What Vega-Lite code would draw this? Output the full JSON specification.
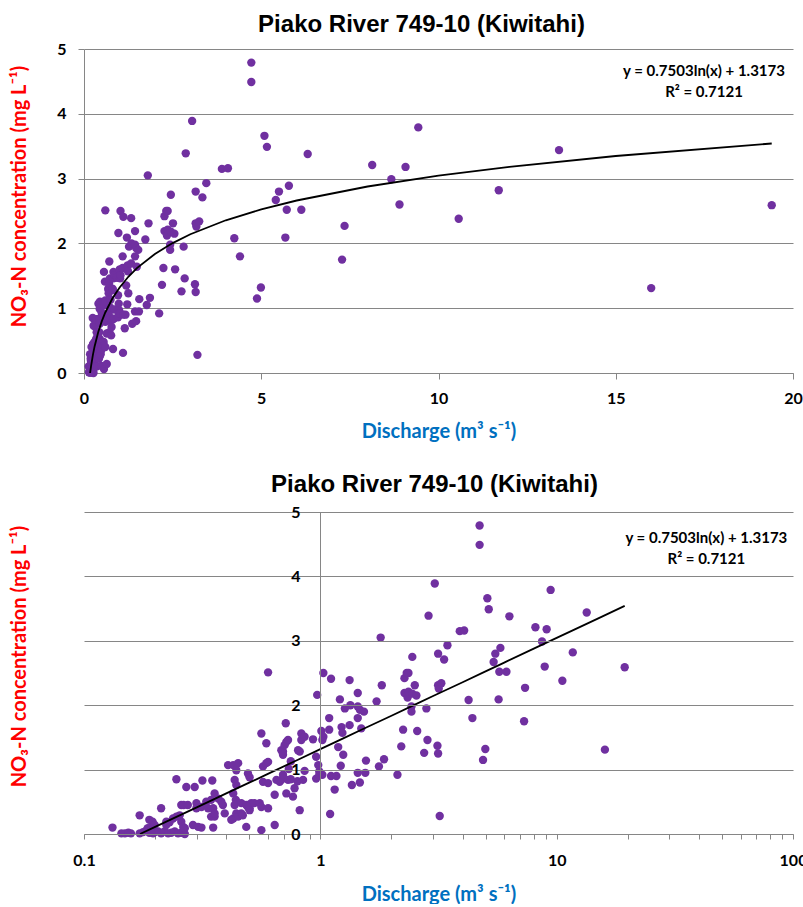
{
  "$schema": "https://vega.github.io/schema/vega-lite/v6.json",
  "background": "white",
  "padding": {"left": 9, "top": 13, "right": 0, "bottom": 0},
  "spacing": 32,
  "config": {
    "view": {"stroke": null},
    "font": "Lato",
    "axis": {
      "labelFont": "Lato", "labelFontSize": 16, "labelFontWeight": "bold", "labelColor": "#000000",
      "titleFont": "Lato", "titleFontWeight": "bold",
      "domainColor": "#868686", "tickColor": "#868686", "gridColor": "#868686", "gridWidth": 1,
      "labelFlush": false, "labelOverlap": false
    }
  },
  "datasets": {
    "obs": [
      {"Q":0.132,"NO3":0.10},{"Q":0.144,"NO3":0.01},{"Q":0.149,"NO3":0.01},{"Q":0.154,"NO3":0.02},{"Q":0.158,"NO3":0.01},
      {"Q":0.172,"NO3":0.29},{"Q":0.172,"NO3":0.01},{"Q":0.178,"NO3":0.03},{"Q":0.183,"NO3":0.05},{"Q":0.186,"NO3":0.09},
      {"Q":0.189,"NO3":0.02},{"Q":0.189,"NO3":0.22},{"Q":0.193,"NO3":0.11},{"Q":0.195,"NO3":0.19},{"Q":0.196,"NO3":0.01},
      {"Q":0.199,"NO3":0.14},{"Q":0.199,"NO3":0.03},
      {"Q":0.206,"NO3":0.04},{"Q":0.212,"NO3":0.01},{"Q":0.212,"NO3":0.40},{"Q":0.219,"NO3":0.04},{"Q":0.223,"NO3":0.19},
      {"Q":0.223,"NO3":0.14},{"Q":0.227,"NO3":0.01},{"Q":0.230,"NO3":0.18},{"Q":0.234,"NO3":0.02},{"Q":0.238,"NO3":0.24},
      {"Q":0.242,"NO3":0.04},{"Q":0.246,"NO3":0.27},{"Q":0.246,"NO3":0.85},{"Q":0.250,"NO3":0.01},{"Q":0.254,"NO3":0.29},
      {"Q":0.258,"NO3":0.19},{"Q":0.258,"NO3":0.45},{"Q":0.258,"NO3":0.02},{"Q":0.263,"NO3":0.11},{"Q":0.264,"NO3":0.45},
      {"Q":0.267,"NO3":0.0},{"Q":0.267,"NO3":0.09},{"Q":0.271,"NO3":0.73},{"Q":0.275,"NO3":0.45},{"Q":0.289,"NO3":0.14},
      {"Q":0.294,"NO3":0.73},{"Q":0.299,"NO3":0.48},{"Q":0.299,"NO3":0.40},
      {"Q":0.304,"NO3":0.11},{"Q":0.314,"NO3":0.10},{"Q":0.314,"NO3":0.42},{"Q":0.317,"NO3":0.83},{"Q":0.329,"NO3":0.50},
      {"Q":0.335,"NO3":0.40},{"Q":0.345,"NO3":0.53},{"Q":0.345,"NO3":0.27},{"Q":0.349,"NO3":0.83},{"Q":0.352,"NO3":0.40},
      {"Q":0.352,"NO3":0.10},{"Q":0.357,"NO3":0.63},{"Q":0.357,"NO3":0.27},{"Q":0.357,"NO3":0.32},{"Q":0.37,"NO3":0.55},
      {"Q":0.381,"NO3":0.50},{"Q":0.387,"NO3":0.45},{"Q":0.394,"NO3":0.32},
      {"Q":0.407,"NO3":1.07},{"Q":0.428,"NO3":1.07},{"Q":0.449,"NO3":1.10},{"Q":0.441,"NO3":0.99},{"Q":0.434,"NO3":0.84},
      {"Q":0.441,"NO3":0.76},{"Q":0.428,"NO3":0.63},{"Q":0.439,"NO3":0.53},{"Q":0.434,"NO3":0.45},{"Q":0.428,"NO3":0.24},
      {"Q":0.42,"NO3":0.22},{"Q":0.441,"NO3":0.32},{"Q":0.449,"NO3":0.27},{"Q":0.463,"NO3":0.32},{"Q":0.47,"NO3":0.29},
      {"Q":0.463,"NO3":0.48},{"Q":0.486,"NO3":0.11},{"Q":0.494,"NO3":0.94},{"Q":0.502,"NO3":0.88},{"Q":0.486,"NO3":0.45},
      {"Q":0.502,"NO3":0.40},{"Q":0.510,"NO3":0.48},{"Q":0.494,"NO3":0.42},{"Q":0.502,"NO3":0.37},
      {"Q":0.526,"NO3":0.48},{"Q":0.554,"NO3":0.48},{"Q":0.563,"NO3":0.42},{"Q":0.563,"NO3":0.06},{"Q":0.563,"NO3":1.56},
      {"Q":0.572,"NO3":0.81},{"Q":0.572,"NO3":1.05},{"Q":0.591,"NO3":1.10},{"Q":0.591,"NO3":1.41},{"Q":0.601,"NO3":1.12},
      {"Q":0.601,"NO3":0.40},{"Q":0.601,"NO3":0.79},{"Q":0.601,"NO3":2.51},{"Q":0.641,"NO3":0.61},{"Q":0.641,"NO3":0.14},
      {"Q":0.652,"NO3":0.84},{"Q":0.673,"NO3":0.81},{"Q":0.684,"NO3":0.84},{"Q":0.684,"NO3":1.30},{"Q":0.695,"NO3":0.92},
      {"Q":0.695,"NO3":1.28},{"Q":0.695,"NO3":1.23},{"Q":0.706,"NO3":1.38},{"Q":0.714,"NO3":1.72},{"Q":0.718,"NO3":1.43},
      {"Q":0.718,"NO3":0.63},{"Q":0.730,"NO3":1.46},{"Q":0.730,"NO3":0.84},
      {"Q":0.735,"NO3":1.01},{"Q":0.75,"NO3":1.13},{"Q":0.75,"NO3":0.85},{"Q":0.766,"NO3":0.58},
      {"Q":0.778,"NO3":0.71},{"Q":0.80,"NO3":0.82},{"Q":0.805,"NO3":1.30},
      {"Q":0.818,"NO3":0.37},{"Q":0.818,"NO3":1.28},{"Q":0.831,"NO3":1.46},{"Q":0.831,"NO3":1.56},
      {"Q":0.858,"NO3":0.98},{"Q":0.845,"NO3":0.84},{"Q":0.858,"NO3":1.51},{"Q":0.931,"NO3":1.47},{"Q":0.96,"NO3":1.20},
      {"Q":0.96,"NO3":0.86},{"Q":0.97,"NO3":2.16},{"Q":0.98,"NO3":1.07},{"Q":0.99,"NO3":0.97},{"Q":0.99,"NO3":0.92},
      {"Q":1.01,"NO3":1.60},{"Q":1.02,"NO3":1.46},{"Q":1.02,"NO3":0.92},{"Q":1.03,"NO3":2.50},{"Q":1.03,"NO3":1.51},
      {"Q":1.09,"NO3":1.80},{"Q":1.09,"NO3":1.62},{"Q":1.10,"NO3":0.31},{"Q":1.11,"NO3":2.41},{"Q":1.11,"NO3":0.90},
      {"Q":1.15,"NO3":0.69},{"Q":1.17,"NO3":0.90},{"Q":1.19,"NO3":1.35},{"Q":1.21,"NO3":2.09},{"Q":1.22,"NO3":1.06},
      {"Q":1.23,"NO3":1.66},{"Q":1.24,"NO3":1.57},{"Q":1.25,"NO3":1.23},{"Q":1.27,"NO3":1.95},{"Q":1.33,"NO3":2.39},
      {"Q":1.33,"NO3":1.69},{"Q":1.34,"NO3":2.00},{"Q":1.36,"NO3":0.76},{"Q":1.44,"NO3":2.19},{"Q":1.44,"NO3":1.98},
      {"Q":1.44,"NO3":1.80},{"Q":1.44,"NO3":0.95},{"Q":1.47,"NO3":1.93},{"Q":1.47,"NO3":0.80},{"Q":1.49,"NO3":1.64},
      {"Q":1.53,"NO3":1.90},{"Q":1.55,"NO3":0.95},{"Q":1.56,"NO3":1.14},{"Q":1.73,"NO3":2.06},{"Q":1.77,"NO3":1.05},
      {"Q":1.80,"NO3":3.05},{"Q":1.82,"NO3":2.31},{"Q":1.86,"NO3":1.16},
      {"Q":2.12,"NO3":0.92},{"Q":2.20,"NO3":1.36},{"Q":2.24,"NO3":1.62},{"Q":2.27,"NO3":2.42},{"Q":2.27,"NO3":2.19},
      {"Q":2.32,"NO3":2.50},{"Q":2.34,"NO3":2.12},{"Q":2.36,"NO3":2.50},{"Q":2.36,"NO3":2.21},{"Q":2.43,"NO3":1.98},
      {"Q":2.43,"NO3":1.90},{"Q":2.45,"NO3":2.75},{"Q":2.45,"NO3":2.18},{"Q":2.51,"NO3":2.31},{"Q":2.55,"NO3":2.15},
      {"Q":2.57,"NO3":1.60},{"Q":2.75,"NO3":1.26},{"Q":2.81,"NO3":1.95},{"Q":2.84,"NO3":1.46},{"Q":2.87,"NO3":3.39},
      {"Q":3.05,"NO3":3.89},{"Q":3.13,"NO3":1.37},{"Q":3.15,"NO3":2.80},{"Q":3.15,"NO3":2.31},{"Q":3.15,"NO3":1.25},
      {"Q":3.17,"NO3":2.26},{"Q":3.20,"NO3":0.28},{"Q":3.25,"NO3":2.34},{"Q":3.34,"NO3":2.71},{"Q":3.45,"NO3":2.93},
      {"Q":3.89,"NO3":3.15},{"Q":4.06,"NO3":3.16},{"Q":4.24,"NO3":2.08},{"Q":4.40,"NO3":1.80},{"Q":4.72,"NO3":4.79},
      {"Q":4.72,"NO3":4.49},{"Q":4.88,"NO3":1.15},{"Q":4.99,"NO3":1.32},
      {"Q":5.09,"NO3":3.66},{"Q":5.16,"NO3":3.49},{"Q":5.41,"NO3":2.67},{"Q":5.50,"NO3":2.80},{"Q":5.68,"NO3":2.09},
      {"Q":5.72,"NO3":2.52},{"Q":5.78,"NO3":2.89},{"Q":6.13,"NO3":2.52},{"Q":6.31,"NO3":3.38},{"Q":7.28,"NO3":1.75},
      {"Q":7.35,"NO3":2.27},{"Q":8.13,"NO3":3.21},{"Q":8.67,"NO3":2.99},{"Q":8.90,"NO3":2.60},{"Q":9.07,"NO3":3.18},
      {"Q":9.43,"NO3":3.79},{"Q":10.57,"NO3":2.38},{"Q":11.7,"NO3":2.82},{"Q":13.4,"NO3":3.44},{"Q":16.0,"NO3":1.31},
      {"Q":19.4,"NO3":2.59}
    ],
    "trend": [
      {"Q":0.1726,"NO3":0.0},{"Q":0.2,"NO3":0.110},{"Q":0.25,"NO3":0.277},{"Q":0.3,"NO3":0.414},{"Q":0.4,"NO3":0.630},
      {"Q":0.5,"NO3":0.797},{"Q":0.6,"NO3":0.934},{"Q":0.8,"NO3":1.150},{"Q":1,"NO3":1.317},{"Q":1.25,"NO3":1.485},
      {"Q":1.5,"NO3":1.622},{"Q":2,"NO3":1.837},{"Q":2.5,"NO3":2.005},{"Q":3,"NO3":2.142},{"Q":4,"NO3":2.357},
      {"Q":5,"NO3":2.525},{"Q":6,"NO3":2.662},{"Q":8,"NO3":2.878},{"Q":10,"NO3":3.045},{"Q":12,"NO3":3.182},
      {"Q":15,"NO3":3.349},{"Q":19.4,"NO3":3.542}
    ]
  },
  "vconcat": [
    {
      "width": 709, "height": 324,
      "title": {"text": "Piako River 749-10 (Kiwitahi)", "font": "Liberation Sans", "fontSize": 24, "fontWeight": "bold", "color": "#000000", "anchor": "middle", "baseline": "alphabetic", "offset": -15, "dx": -17},
      "layer": [
        {
          "data": {"name": "obs"},
          "mark": {"type": "circle", "size": 70, "color": "#7030A0", "opacity": 1},
          "encoding": {
            "x": {"field": "Q", "type": "quantitative", "scale": {"domain": [0, 20], "nice": false, "zero": false},
                  "axis": {"values": [0, 5, 10, 15, 20], "format": "d", "grid": false, "tickSize": 6, "labelPadding": 11,
                           "title": "Discharge (m³ s⁻¹)", "titleColor": "#0070C0", "titleFontSize": 20, "titlePadding": 15}},
            "y": {"field": "NO3", "type": "quantitative", "scale": {"domain": [0, 5], "nice": false},
                  "axis": {"values": [0, 1, 2, 3, 4, 5], "format": "d", "labelOverlap": false, "grid": true, "tickSize": 6, "labelPadding": 12,
                           "title": "NO₃-N concentration (mg L⁻¹)", "titleColor": "#FF0000", "titleFontSize": 20,
                           "titleAngle": -90, "titleAlign": "center", "titleBaseline": "middle", "titleX": -65, "titleY": 147}}
          }
        },
        {
          "data": {"name": "trend"},
          "mark": {"type": "line", "color": "#000000", "strokeWidth": 1.8},
          "encoding": {"x": {"field": "Q", "type": "quantitative"}, "y": {"field": "NO3", "type": "quantitative"}}
        },
        {
          "data": {"values": [{}]},
          "mark": {"type": "text", "text": ["y = 0.7503ln(x) + 1.3173", "R² = 0.7121"], "font": "Lato", "fontSize": 15, "fontWeight": "bold", "align": "center", "baseline": "alphabetic", "lineHeight": 21, "color": "#000000"},
          "encoding": {"x": {"datum": 17.49, "type": "quantitative"}, "y": {"datum": 4.58, "type": "quantitative"}}
        }
      ]
    },
    {
      "width": 709, "height": 322,
      "title": {"text": "Piako River 749-10 (Kiwitahi)", "font": "Liberation Sans", "fontSize": 24, "fontWeight": "bold", "color": "#000000", "anchor": "middle", "baseline": "alphabetic", "offset": -12, "dx": -4},
      "layer": [
        {
          "data": {"name": "obs"},
          "mark": {"type": "circle", "size": 70, "color": "#7030A0", "opacity": 1},
          "encoding": {
            "x": {"field": "Q", "type": "quantitative", "scale": {"type": "log", "domain": [0.1, 100], "nice": false},
                  "axis": {"values": [0.1,0.2,0.3,0.4,0.5,0.6,0.7,0.8,0.9,1,2,3,4,5,6,7,8,9,10,20,30,40,50,60,70,80,90,100],
                           "labelExpr": "datum.value == 0.1 || datum.value == 1 || datum.value == 10 || datum.value == 100 ? format(datum.value, '~g') : ''",
                           "grid": false, "tickSize": 5, "labelPadding": 13,
                           "title": "Discharge (m³ s⁻¹)", "titleColor": "#0070C0", "titleFontSize": 20, "titlePadding": 16}},
            "y": {"field": "NO3", "type": "quantitative", "scale": {"domain": [0, 5], "nice": false},
                  "axis": {"values": [0, 1, 2, 3, 4, 5], "format": "d", "labelOverlap": false, "grid": true, "tickSize": 6, "labelPadding": 14, "offset": -236, "zindex": 1,
                           "title": "NO₃-N concentration (mg L⁻¹)", "titleColor": "#FF0000", "titleFontSize": 20,
                           "titleAngle": -90, "titleAlign": "center", "titleBaseline": "middle", "titleX": -301, "titleY": 144}}
          }
        },
        {
          "data": {"name": "trend"},
          "mark": {"type": "line", "color": "#000000", "strokeWidth": 1.8},
          "encoding": {"x": {"field": "Q", "type": "quantitative"}, "y": {"field": "NO3", "type": "quantitative"}}
        },
        {
          "data": {"values": [{}]},
          "mark": {"type": "text", "text": ["y = 0.7503ln(x) + 1.3173", "R² = 0.7121"], "font": "Lato", "fontSize": 15, "fontWeight": "bold", "align": "center", "baseline": "alphabetic", "lineHeight": 21, "color": "#000000"},
          "encoding": {"x": {"datum": 43, "type": "quantitative"}, "y": {"datum": 4.52, "type": "quantitative"}}
        }
      ]
    }
  ]
}
